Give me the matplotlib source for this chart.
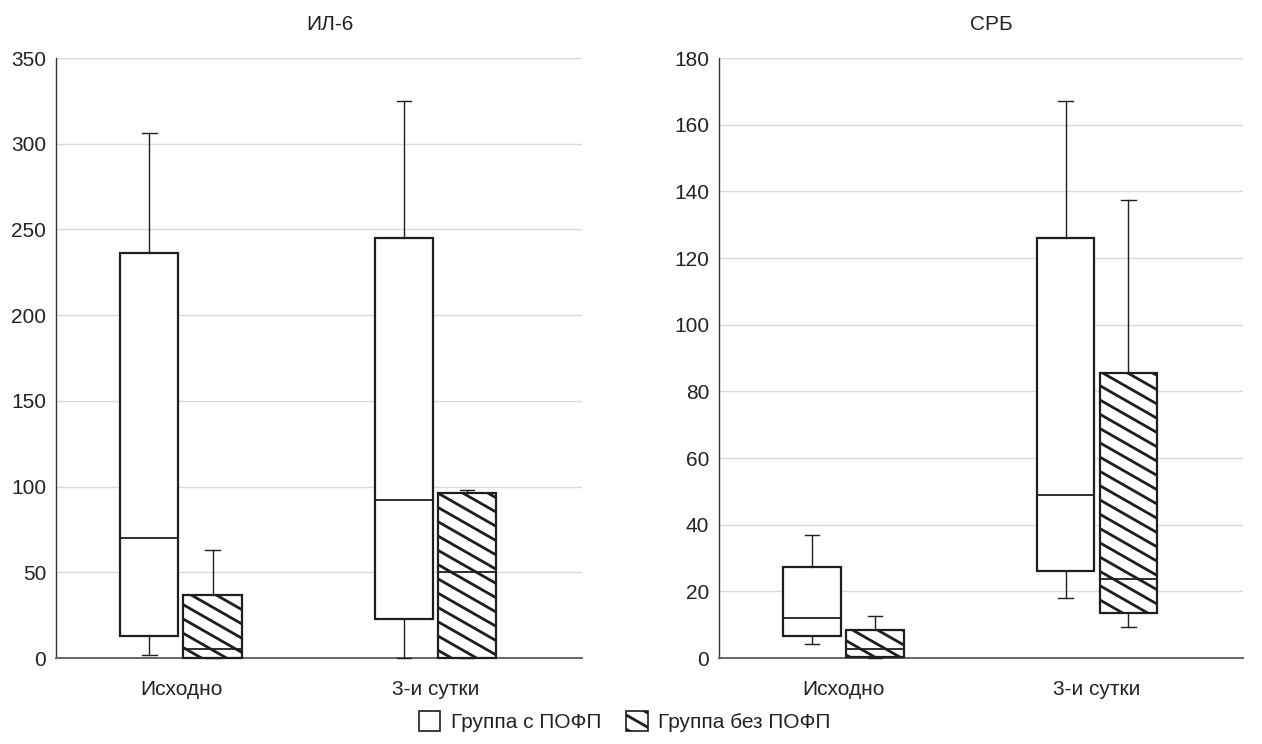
import numpy as np
import matplotlib
matplotlib.use("Agg")
import matplotlib.pyplot as plt
import matplotlib.hatch as mhatch
from matplotlib.path import Path
from matplotlib.patches import Patch

# ---------------- data ----------------
categories = ["Исходно", "3-и сутки"]
groups = ["Группа с ПОФП", "Группа без ПОФП"]
titles = ["ИЛ-6", "СРБ"]

# ИЛ-6: [Исходно, 3-и сутки]
il6_with_whislo = [2, 0]
il6_with_q1 = [13, 23]
il6_with_med = [70, 92]
il6_with_q3 = [236, 245]
il6_with_whishi = [306, 325]

il6_without_whislo = [0, 0]
il6_without_q1 = [0, 0]
il6_without_med = [5, 50]
il6_without_q3 = [37, 96]
il6_without_whishi = [63, 98]

# СРБ: [Исходно, 3-и сутки]
crp_with_whislo = [4.2, 18]
crp_with_q1 = [6.5, 26]
crp_with_med = [12, 49]
crp_with_q3 = [27.2, 126]
crp_with_whishi = [36.8, 167]

crp_without_whislo = [0, 9.2]
crp_without_q1 = [0.2, 13.4]
crp_without_med = [2.6, 23.8]
crp_without_q3 = [8.3, 85.6]
crp_without_whishi = [12.5, 137.5]

il6_ticks = [0, 50, 100, 150, 200, 250, 300, 350]
crp_ticks = [0, 20, 40, 60, 80, 100, 120, 140, 160, 180]

# ---------------- custom slanted hatch for '\\' ----------------
class SlantBackHatch(mhatch.HatchPatternBase):
    slope = 4.0 / 7.0
    step = 1.0 / 7.0

    def __init__(self, hatch, density):
        self.on = hatch.count('\\') > 0
        self.ks = list(range(-2, 14))
        self.num_vertices = 2 * len(self.ks) if self.on else 0

    def set_vertices_and_codes(self, vertices, codes):
        s = self.slope
        i = 0
        for k in self.ks:
            c = k * self.step
            x0, x1 = -0.1, 1.1
            vertices[i] = (x0, c - s * x0)
            vertices[i + 1] = (x1, c - s * x1)
            codes[i] = Path.MOVETO
            codes[i + 1] = Path.LINETO
            i += 2

mhatch._hatch_types = [t for t in mhatch._hatch_types
                       if t is not mhatch.SouthEastHatch] + [SlantBackHatch]

plt.rcParams['font.family'] = ['Liberation Sans', 'DejaVu Sans']
plt.rcParams['hatch.linewidth'] = 2.0
plt.rcParams['hatch.color'] = '#1e1e1e'

TXT = '#222222'
EDGE = '#1e1e1e'
FS = 15

fig = plt.figure(figsize=(12.62, 7.44), dpi=100)
ax1 = fig.add_axes([56 / 1262, 86 / 744, 526 / 1262, 600 / 744])
ax2 = fig.add_axes([719 / 1262, 86 / 744, 524 / 1262, 600 / 744])

panels = [
    (ax1, titles[0], il6_ticks,
     (il6_with_whislo, il6_with_q1, il6_with_med, il6_with_q3, il6_with_whishi),
     (il6_without_whislo, il6_without_q1, il6_without_med, il6_without_q3, il6_without_whishi)),
    (ax2, titles[1], crp_ticks,
     (crp_with_whislo, crp_with_q1, crp_with_med, crp_with_q3, crp_with_whishi),
     (crp_without_whislo, crp_without_q1, crp_without_med, crp_without_q3, crp_without_whishi)),
]

offset = 0.124
bw = 0.228
capw = 0.056

def make_stats(s):
    lo, q1, med, q3, hi = s
    return [dict(whislo=lo[i], q1=q1[i], med=med[i], q3=q3[i], whishi=hi[i], fliers=[])
            for i in range(len(categories))]

x = np.arange(len(categories))
for ax, title, ticks, s_with, s_without in panels:
    for stats, pos, hatch in [(make_stats(s_with), x - offset, None),
                              (make_stats(s_without), x + offset, '\\')]:
        art = ax.bxp(stats, positions=pos, widths=bw, capwidths=capw,
                     patch_artist=True, showfliers=False, manage_ticks=False,
                     boxprops=dict(facecolor='white', edgecolor=EDGE, linewidth=1.6,
                                   hatch=hatch),
                     medianprops=dict(color=EDGE, linewidth=1.3),
                     whiskerprops=dict(color=EDGE, linewidth=1.0),
                     capprops=dict(color=EDGE, linewidth=1.0))
        for key in art:
            for a in art[key]:
                a.set_clip_on(False)
                a.set_zorder(3)
    ax.set_xlim(-0.491, 1.576)
    ax.set_ylim(ticks[0], ticks[-1])
    ax.set_yticks(ticks)
    ax.set_xticks(x)
    ax.set_xticklabels(categories)
    ax.tick_params(axis='x', length=0, pad=16, labelsize=FS, labelcolor=TXT)
    ax.tick_params(axis='y', length=0, pad=7, labelsize=FS, labelcolor=TXT)
    ax.grid(axis='y', color='#d9d9d9', linewidth=1.0)
    ax.set_axisbelow(True)
    for sp in ['top', 'right']:
        ax.spines[sp].set_visible(False)
    ax.spines['left'].set_color('#333333')
    ax.spines['left'].set_linewidth(1.0)
    ax.spines['bottom'].set_color('#666666')
    ax.spines['bottom'].set_linewidth(1.4)
    ax.set_title(title, fontsize=FS, color=TXT, x=0.52, pad=20)

handles = [Patch(facecolor='white', edgecolor=EDGE, linewidth=1.2, label=groups[0]),
           Patch(facecolor='white', edgecolor=EDGE, linewidth=1.2, hatch='\\', label=groups[1])]
leg = fig.legend(handles=handles, loc='center', bbox_to_anchor=(0.495, 0.03), ncol=2,
                 frameon=False, fontsize=FS, handlelength=1.05, handleheight=1.05,
                 handletextpad=0.5, columnspacing=1.2)
for t in leg.get_texts():
    t.set_color(TXT)

fig.savefig('out.png', dpi=100)
